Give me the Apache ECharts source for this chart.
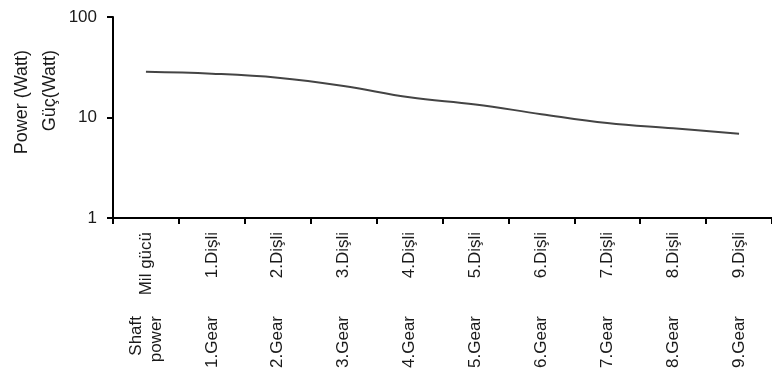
<!DOCTYPE html>
<html>
<head>
<meta charset="utf-8">
<script src="https://cdn.jsdelivr.net/npm/echarts@6/dist/echarts.min.js"></script>
<style>
html,body{margin:0;padding:0;background:#fff;}
#chart{width:772px;height:378px;}
</style>
</head>
<body>
<div id="chart"></div>
<script>
var categoriesTR = ["Mil gücü", "1.Dişli", "2.Dişli", "3.Dişli", "4.Dişli", "5.Dişli", "6.Dişli", "7.Dişli", "8.Dişli", "9.Dişli"];
var categoriesEN = ["Shaft\npower", "1.Gear", "2.Gear", "3.Gear", "4.Gear", "5.Gear", "6.Gear", "7.Gear", "8.Gear", "9.Gear"];
var powerWatt = [28.5, 27.3, 24.9, 20.6, 15.9, 13.5, 10.8, 8.8, 7.8, 6.9];
var yTitleEN = "Power (Watt)";
var yTitleTR = "Güç(Watt)";

var FONT = "Liberation Sans, Arial, sans-serif";
var chart = echarts.init(document.getElementById('chart'), null, {renderer: 'canvas'});
chart.setOption({
  animation: false,
  backgroundColor: '#ffffff',
  grid: {left: 113, top: 17, width: 666, bottom: 160, containLabel: false},
  xAxis: [{
    type: 'category',
    data: categoriesTR,
    boundaryGap: true,
    position: 'bottom',
    axisLine: {lineStyle: {color: '#000', width: 2}},
    axisTick: {show: true, inside: false, length: 6, alignWithLabel: false, lineStyle: {color: '#000', width: 2}},
    axisLabel: {rotate: 90, margin: 14, interval: 0, color: '#1a1a1a', fontFamily: FONT, fontSize: 17},
    splitLine: {show: false}
  }, {
    type: 'category',
    data: categoriesEN,
    boundaryGap: true,
    position: 'bottom',
    axisLine: {show: false},
    axisTick: {show: false},
    axisLabel: {rotate: 90, margin: 98, interval: 0, color: '#1a1a1a', fontFamily: FONT, fontSize: 17, lineHeight: 20},
    splitLine: {show: false}
  }],
  yAxis: {
    type: 'log',
    logBase: 10,
    min: 1,
    max: 100,
    axisLine: {show: true, lineStyle: {color: '#000', width: 2}},
    axisTick: {show: true, inside: false, length: 6, lineStyle: {color: '#000', width: 2}},
    minorTick: {show: false},
    splitLine: {show: false},
    axisLabel: {margin: 16, color: '#1a1a1a', fontFamily: FONT, fontSize: 17}
  },
  graphic: [
    {type: 'text', x: 22, y: 50, rotation: Math.PI / 2,
     style: {text: yTitleEN, fill: '#1a1a1a', font: '18px ' + FONT, align: 'right', verticalAlign: 'middle'}},
    {type: 'text', x: 50, y: 50, rotation: Math.PI / 2,
     style: {text: yTitleTR, fill: '#1a1a1a', font: '18px ' + FONT, align: 'right', verticalAlign: 'middle'}}
  ],
  series: [{
    type: 'line',
    xAxisIndex: 0,
    data: powerWatt,
    smooth: 0.4,
    showSymbol: false,
    lineStyle: {color: '#444', width: 2}
  }]
});
</script>
</body>
</html>
